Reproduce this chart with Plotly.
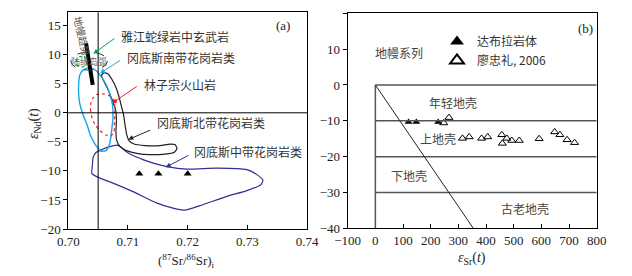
import plotly.graph_objects as go

# ---------------- data: panel (a) ----------------
south_x = [0.70196, 0.70171, 0.70188, 0.70246, 0.70313, 0.70380, 0.70464, 0.70548, 0.70632, 0.70690,
           0.70724, 0.70749, 0.70740, 0.70698, 0.70632, 0.70548, 0.70464, 0.70363, 0.70263]
south_y = [6.60, 4.02, 1.78, -0.29, -2.02, -4.09, -5.64, -6.59, -6.50, -5.47,
           -3.22, -0.81, 1.43, 3.16, 4.88, 6.26, 7.29, 7.72, 7.47]

lzz_x = [0.70380, 0.70372, 0.70397, 0.70447, 0.70531, 0.70632, 0.70715, 0.70766, 0.70774, 0.70782,
         0.70766, 0.70698, 0.70598, 0.70481, 0.70414]
lzz_y = [1.78, 0.57, -0.81, -2.02, -3.05, -3.83, -4.00, -3.22, -1.50, 0.57,
         1.95, 2.90, 3.24, 3.16, 2.55]

north_x = [0.70556, 0.70598, 0.70665, 0.70732, 0.70799, 0.70849, 0.70883, 0.70925, 0.70950, 0.70975,
           0.71017, 0.71101, 0.71285, 0.71536, 0.71704, 0.71787, 0.71821, 0.71771, 0.71620, 0.71369,
           0.71168, 0.71000, 0.70866, 0.70807, 0.70799, 0.70807, 0.70791, 0.70732, 0.70665, 0.70598]
north_y = [6.43, 6.86, 6.69, 5.74, 4.36, 2.81, 1.43, -0.29, -2.02, -3.57,
           -4.78, -5.38, -5.64, -5.64, -5.38, -5.47, -6.16, -6.84, -7.10, -7.19,
           -7.02, -6.59, -5.81, -4.60, -2.88, -1.16, 0.57, 2.29, 4.02, 5.40]

central_x = [0.70414, 0.70464, 0.70581, 0.70698, 0.70816, 0.70883, 0.70967, 0.71084, 0.71251, 0.71452,
             0.71653, 0.71988, 0.72491, 0.72993, 0.73161, 0.73261, 0.73228, 0.72993, 0.72658, 0.72206,
             0.71955, 0.71754, 0.71486, 0.71084, 0.70749, 0.70531, 0.70397, 0.70405]
central_y = [-7.71, -6.84, -6.24, -5.81, -5.55, -5.90, -6.67, -7.36, -8.05, -8.74,
             -9.26, -9.69, -9.52, -9.78, -10.64, -11.59, -12.36, -13.40, -14.38, -15.98,
             -16.76, -16.41, -15.55, -13.57, -12.10, -11.24, -10.47, -8.91]

yj_x = [0.70162, 0.70263, 0.70313, 0.70296, 0.70196, 0.70129]
yj_y = [9.53, 9.71, 9.02, 8.16, 7.81, 8.50]

arc_ellipse_x = [0.70043, 0.70657]
arc_ellipse_y = [7.35, 10.45]

mantle_trend_x = [0.70297, 0.70409]
mantle_trend_y = [12.0, 4.8]

dbl_sr = [0.7119, 0.7151, 0.7200]
dbl_nd = [-10.5, -10.5, -10.5]

sr_ref = 0.705
nd_ref = 0

# ---------------- data: panel (b) ----------------
dbl_esr = [120, 148, 227]
dbl_end = [-10.3, -10.3, -10.3]

liao_esr = [247, 266, 315, 339, 384, 406, 457, 475, 459, 493, 520, 592, 648, 667, 693, 720]
liao_end = [-10.6, -9.1, -14.9, -14.5, -14.9, -14.5, -13.9, -14.9, -16.3, -15.5, -15.5, -15.0,
            -13.1, -13.9, -15.3, -16.1]

crust_levels = [0, -10, -20, -30]
crust_xmax = 800
mantle_line_x = [0, 354]
mantle_line_y = [0, -40]

serif = "Liberation Serif"
cjk = "Noto Sans CJK SC"

W, H, OFF = 632, 276, 8


def px(xp):
    return (xp - OFF) / W


def py(yp):
    return (H + OFF - yp) / H


fig = go.Figure()


def poly(x, y, color, dash="solid", width=1.2):
    fig.add_trace(go.Scatter(x=x + x[:1], y=y + y[:1], mode="lines",
                             line=dict(color=color, width=width, dash=dash, shape="spline", smoothing=0.6),
                             showlegend=False, hoverinfo="skip", xaxis="x", yaxis="y"))


poly(central_x, central_y, "#2e3192")
poly(north_x, north_y, "#231f20")
poly(south_x, south_y, "#1aa3e8", width=1.4)
poly(lzz_x, lzz_y, "#e8202a", dash="dot")
poly(yj_x, yj_y, "#00a651", dash="dot")

fig.add_trace(go.Scatter(x=mantle_trend_x, y=mantle_trend_y, mode="lines",
                         line=dict(color="black", width=4), showlegend=False,
                         xaxis="x", yaxis="y"))

fig.add_trace(go.Scatter(x=dbl_sr, y=dbl_nd, mode="markers",
                         marker=dict(symbol="triangle-up", size=7, color="black"),
                         showlegend=False, legendgroup="dbl", xaxis="x", yaxis="y"))

# panel (b)
fig.add_trace(go.Scatter(x=dbl_esr, y=dbl_end, mode="markers", name="达布拉岩体",
                         marker=dict(symbol="triangle-up", size=7, color="black"),
                         legendgroup="dbl", xaxis="x2", yaxis="y2"))
fig.add_trace(go.Scatter(x=liao_esr, y=liao_end, mode="markers", name="廖忠礼, 2006",
                         marker=dict(symbol="triangle-up-open", size=7, color="black",
                                     line=dict(width=1)),
                         xaxis="x2", yaxis="y2"))

shapes = []
shapes.append(dict(type="line", xref="x", yref="y domain", x0=sr_ref, x1=sr_ref, y0=0, y1=1,
                   line=dict(color="black", width=1)))
shapes.append(dict(type="line", xref="x domain", yref="y", x0=0, x1=1, y0=nd_ref, y1=nd_ref,
                   line=dict(color="black", width=1)))
shapes.append(dict(type="circle", xref="x", yref="y", x0=arc_ellipse_x[0], x1=arc_ellipse_x[1],
                   y0=arc_ellipse_y[0], y1=arc_ellipse_y[1],
                   line=dict(color="#333", width=1, dash="dash")))
for lv in crust_levels:
    shapes.append(dict(type="line", xref="x2", yref="y2", x0=0, x1=crust_xmax, y0=lv, y1=lv,
                       line=dict(color="#555", width=1.5)))
shapes.append(dict(type="line", xref="x2", yref="y2", x0=0, x1=0, y0=0, y1=-40,
                   line=dict(color="#555", width=1.5)))
shapes.append(dict(type="line", xref="x2", yref="y2", x0=mantle_line_x[0], x1=mantle_line_x[1],
                   y0=mantle_line_y[0], y1=mantle_line_y[1], line=dict(color="#222", width=1)))

ann = []


def label(x, y, text, xref="x", yref="y", anchor="left", size=12, color="#333", angle=0):
    ann.append(dict(x=x, y=y, xref=xref, yref=yref, text=text, showarrow=False,
                    xanchor=anchor, yanchor="middle", textangle=angle,
                    font=dict(family=cjk, size=size, color=color)))


def arrow(tx, ty, hx, hy, color, head=2):
    ann.append(dict(x=hx, y=hy, ax=tx, ay=ty, xref="x", yref="y", axref="x", ayref="y",
                    text="", showarrow=True, arrowhead=head, arrowsize=1, arrowwidth=1,
                    arrowcolor=color))


arrow(0.70799, 12.98, 0.70419, 10.17, "#00a651")
label(0.70851, 13.2, "雅江蛇绿岩中玄武岩")
arrow(0.70894, 9.19, 0.70531, 6.78, "#1aa3e8")
label(0.70950, 9.48, "冈底斯南带花岗岩类")
arrow(0.71173, 4.71, 0.70782, 2.0, "#e8202a", head=6)
label(0.71229, 4.88, "林子宗火山岩")
arrow(0.71397, -2.88, 0.71005, -4.6, "#231f20")
label(0.71452, -1.72, "冈底斯北带花岗岩类")
arrow(0.72039, -7.19, 0.71632, -9.38, "#2e3192")
label(0.72067, -6.62, "冈底斯中带花岗岩类")
label(0.70238, 13.33, "地幔趋势", anchor="center", size=10, color="#555", angle=77)
label(0.7035, 8.9, "陆缘岛弧", anchor="center", size=9, color="#666")

label(87, 9.2, "地幔系列", xref="x2", yref="y2", anchor="center", color="#444")
label(280, -4.9, "年轻地壳", xref="x2", yref="y2", anchor="center", color="#444")
label(225, -14.9, "上地壳", xref="x2", yref="y2", anchor="center", color="#444")
label(120, -25.4, "下地壳", xref="x2", yref="y2", anchor="center", color="#444")
label(542, -34.6, "古老地壳", xref="x2", yref="y2", anchor="center", color="#444")

ann.append(dict(x=0.9, y=0.985, xref="x domain", yref="y domain", text="(a)", showarrow=False,
                xanchor="center", yanchor="top", font=dict(family=serif, size=13, color="#222")))
ann.append(dict(x=0.955, y=0.975, xref="x2 domain", yref="y2 domain", text="(b)", showarrow=False,
                xanchor="center", yanchor="top", font=dict(family=serif, size=13, color="#222")))

# axis titles
ann.append(dict(x=px(34), y=py(124), xref="paper", yref="paper", showarrow=False,
                xanchor="center", yanchor="middle",
                text="<i>ε</i><sub>Nd</sub>(<i>t</i>)", textangle=-90,
                font=dict(family=serif, size=14, color="#222")))
ann.append(dict(x=px(186), y=py(261), xref="paper", yref="paper", showarrow=False,
                xanchor="center", yanchor="middle",
                text="(<sup>87</sup>Sr/<sup>86</sup>Sr)<sub>i</sub>",
                font=dict(family=serif, size=13, color="#222")))
ann.append(dict(x=px(472), y=py(258), xref="paper", yref="paper", showarrow=False,
                xanchor="center", yanchor="middle",
                text="<i>ε</i><sub>Sr</sub>(<i>t</i>)",
                font=dict(family=serif, size=14, color="#222")))

tick_font = dict(family=serif, size=13, color="#222")
ax_common = dict(showline=True, mirror=True, linecolor="black", linewidth=1, showgrid=False,
                 zeroline=False, tickfont=tick_font, ticklen=4, tickcolor="black")

fig.update_layout(
    width=W, height=H, margin=dict(l=0, r=0, t=0, b=0),
    paper_bgcolor="white", plot_bgcolor="white", template="none",
    shapes=shapes, annotations=ann,
    xaxis=dict(domain=[px(68.3), px(307)], range=[0.70, 0.74], tickvals=[0.70, 0.71, 0.72, 0.73, 0.74],
               ticktext=["0.70", "0.71", "0.72", "0.73", "0.74"], ticks="inside", anchor="y", **ax_common),
    yaxis=dict(domain=[py(229), py(12.3)], range=[-20, 17.3], tickvals=list(range(-20, 16, 5)),
               ticks="outside", anchor="x", **ax_common),
    xaxis2=dict(domain=[px(347.7), px(596.7)], range=[-100, 800], tickvals=list(range(-100, 801, 100)),
                ticks="inside", anchor="y2", **ax_common),
    yaxis2=dict(domain=[py(228.3), py(13.3)], range=[-40, 20], tickvals=list(range(-40, 21, 10)),
                ticks="outside", anchor="x2", **ax_common),
    legend=dict(x=px(437), y=py(27), xanchor="left", yanchor="top",
                bgcolor="rgba(0,0,0,0)", font=dict(family=cjk, size=12, color="#333"),
                tracegroupgap=0, itemsizing="constant"),
    showlegend=True,
)

fig.write_html("out.html")
